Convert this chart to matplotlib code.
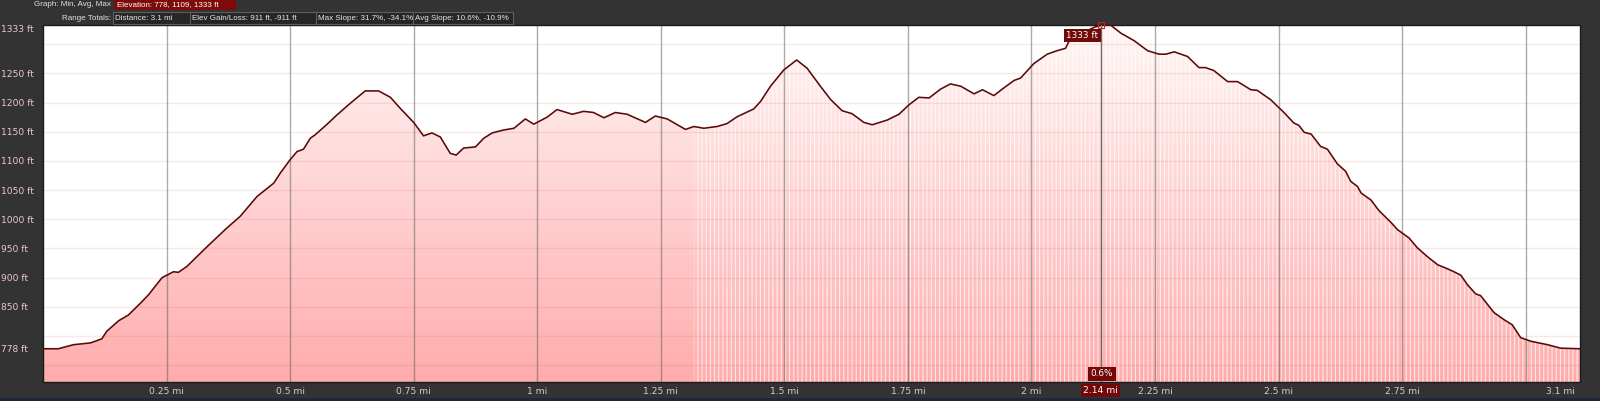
import numpy as np
import matplotlib
matplotlib.use('Agg')
import matplotlib.pyplot as plt
from matplotlib.colors import LinearSegmentedColormap
from matplotlib.patches import Rectangle

# --- data ---
distance_mi = [0.000, 0.031, 0.062, 0.096, 0.119, 0.129, 0.153, 0.173, 0.197, 0.214,
               0.241, 0.264, 0.274, 0.291, 0.332, 0.372, 0.399, 0.433, 0.467, 0.480,
               0.500, 0.514, 0.527, 0.541, 0.551, 0.575, 0.595, 0.622, 0.652, 0.679,
               0.703, 0.723, 0.750, 0.770, 0.787, 0.804, 0.824, 0.836, 0.851, 0.875,
               0.892, 0.909, 0.932, 0.953, 0.976, 0.993, 1.020, 1.040, 1.071, 1.094,
               1.114, 1.135, 1.158, 1.182, 1.219, 1.239, 1.263, 1.300, 1.317, 1.337,
               1.364, 1.384, 1.405, 1.438, 1.452, 1.472, 1.499, 1.525, 1.546, 1.573,
               1.594, 1.617, 1.637, 1.661, 1.678, 1.708, 1.732, 1.752, 1.772, 1.793,
               1.816, 1.836, 1.857, 1.884, 1.901, 1.924, 1.944, 1.965, 1.978, 2.005,
               2.032, 2.052, 2.069, 2.076, 2.110, 2.127, 2.143, 2.160, 2.181, 2.208,
               2.235, 2.258, 2.272, 2.289, 2.316, 2.339, 2.352, 2.369, 2.397, 2.417,
               2.444, 2.457, 2.484, 2.511, 2.531, 2.541, 2.552, 2.566, 2.585, 2.599,
               2.619, 2.636, 2.646, 2.660, 2.667, 2.687, 2.703, 2.727, 2.741, 2.764,
               2.781, 2.801, 2.822, 2.842, 2.855, 2.869, 2.882, 2.899, 2.909, 2.936,
               2.956, 2.973, 2.990, 3.010, 3.044, 3.071, 3.110]
elevation_ft = [778, 778, 785, 788, 795, 808, 826, 836, 856, 871,
                900, 910, 909, 919, 953, 985, 1005, 1039, 1062, 1079,
                1102, 1116, 1120, 1139, 1145, 1163, 1179, 1199, 1220, 1220,
                1209, 1190, 1166, 1143, 1148, 1141, 1113, 1110, 1122, 1124,
                1139, 1148, 1153, 1156, 1172, 1163, 1175, 1188, 1180, 1185,
                1183, 1174, 1183, 1180, 1166, 1177, 1172, 1154, 1159, 1156,
                1159, 1164, 1176, 1189, 1202, 1228, 1256, 1273, 1259, 1228,
                1205, 1186, 1181, 1166, 1162, 1170, 1180, 1196, 1209, 1208,
                1223, 1232, 1228, 1215, 1222, 1212, 1225, 1238, 1242, 1267,
                1283, 1289, 1293, 1305, 1322, 1329, 1333, 1333, 1319, 1306,
                1289, 1283, 1283, 1287, 1279, 1260, 1260, 1255, 1236, 1236,
                1222, 1221, 1205, 1183, 1165, 1161, 1149, 1146, 1125, 1120,
                1095, 1082, 1065, 1056, 1045, 1033, 1015, 995, 982, 968,
                951, 936, 922, 915, 910, 904, 888, 872, 869, 840,
                828, 819, 797, 791, 785, 779, 778]

x_grid = [0.25, 0.5, 0.75, 1.0, 1.25, 1.5, 1.75, 2.0, 2.25, 2.5, 2.75, 3.0]
x_tick_pos = [0.25, 0.5, 0.75, 1.0, 1.25, 1.5, 1.75, 2.0, 2.25, 2.5, 2.75, 3.1]
x_tick_labels = ['0.25 mi', '0.5 mi', '0.75 mi', '1 mi', '1.25 mi', '1.5 mi',
                 '1.75 mi', '2 mi', '2.25 mi', '2.5 mi', '2.75 mi', '3.1 mi']
y_grid = [750, 800, 850, 900, 950, 1000, 1050, 1100, 1150, 1200, 1250, 1300]
y_tick_pos = [778, 850, 900, 950, 1000, 1050, 1100, 1150, 1200, 1250, 1333]
y_tick_labels = ['%d ft' % v for v in y_tick_pos]

cursor_mi = 2.14
cursor_ft = 1333
cursor_slope = '0.6%'

header_graph = 'Elevation: 778, 1109, 1333 ft'
header_stats = ['Distance: 3.1 mi', 'Elev Gain/Loss: 911 ft, -911 ft',
                'Max Slope: 31.7%, -34.1%', 'Avg Slope: 10.6%, -10.9%']

# --- layout ---
W, H = 1600, 401
xmin, xmax = 0, 3.11
ymin, ymax = 721, 1333
BG = '#333333'
DARKRED = '#730808'

def fx(px):
    return px / W

def fy(py):
    return 1 - py / H

fig = plt.figure(figsize=(W / 100, H / 100), dpi=100, facecolor=BG)
ax = fig.add_axes([fx(43), fy(382), (1580 - 43) / W, (382 - 25) / H])
ax.set_facecolor('white')
ax.set_xlim(xmin, xmax)
ax.set_ylim(ymin, ymax)

d = np.array(distance_mi)
e = np.array(elevation_ft)

# gradient fill under the profile
poly = ax.fill_between(d, ymin, e, facecolor='none', edgecolor='none')
cmap = LinearSegmentedColormap.from_list('pinkfill', ['#ffacac', '#fff6f6'])
grad = np.linspace(0, 1, 256).reshape(-1, 1)
im = ax.imshow(grad, extent=[xmin, xmax, ymin, ymax], origin='lower',
               aspect='auto', cmap=cmap, zorder=1)
im.set_clip_path(poly.get_paths()[0], transform=ax.transData)

# sample stripes on the later part of the track
plt.rcParams['hatch.linewidth'] = 0.8
ax.fill_between(d, ymin, e, where=d >= 1.31, facecolor='none',
                edgecolor=(1, 1, 1, 0.7), hatch='||||', linewidth=0, zorder=1.5)

# grid (drawn by hand so lines on label positions are kept)
for gy in y_grid:
    ax.axhline(gy, color=(0.85, 0.35, 0.35, 0.14), lw=1, zorder=2.5)
for gx in x_grid:
    ax.axvline(gx, color=(0.35, 0.35, 0.35, 0.5), lw=1, zorder=2.5)

# profile line
ax.plot(d, e, color='#5a0909', lw=1.15, zorder=3)

# ticks
ax.set_xticks(x_tick_pos, x_tick_labels)
ax.set_yticks(y_tick_pos, y_tick_labels)
ax.tick_params(which='both', length=0)
ax.tick_params(axis='x', colors='#d0d0d0', labelsize=6.6, pad=3.4)
ax.tick_params(axis='y', colors='#f0c8c8', labelsize=6.6, pad=30.2)
for lab in ax.get_yticklabels():
    lab.set_horizontalalignment('left')
ax.get_yticklabels()[-1].set_verticalalignment('top')
ax.get_xticklabels()[-1].set_horizontalalignment('right')
for s in ax.spines.values():
    s.set_color('#1a1a1a')
    s.set_linewidth(1)

# cursor
ax.axvline(cursor_mi, color='#6a6a6a', lw=1, zorder=3.5)
ax.plot(cursor_mi, cursor_ft, marker='s', ms=4, mfc='none', mec='#d02020',
        mew=0.8, clip_on=False, zorder=4)
ax.annotate('%d ft' % cursor_ft, xy=(cursor_mi, ymax), xytext=(-1.5, -7.6),
            textcoords='offset points', ha='right', va='center', color='white',
            fontsize=6.4, zorder=5,
            bbox=dict(boxstyle='square,pad=0.25', fc=DARKRED, ec='none'))
ax.annotate(cursor_slope, xy=(cursor_mi, ymin), xytext=(1, 5.8),
            textcoords='offset points', ha='center', va='center', color='white',
            fontsize=6.4, zorder=5,
            bbox=dict(boxstyle='square,pad=0.3', fc=DARKRED, ec='none'))
ax.annotate('%.2f mi' % cursor_mi, xy=(cursor_mi, ymin), xytext=(0, -6.1),
            textcoords='offset points', ha='center', va='center', color='white',
            fontsize=6.6, zorder=5, annotation_clip=False,
            bbox=dict(boxstyle='square,pad=0.25', fc=DARKRED, ec='none'))

# header rows
hdr_fs = 5.8
hdr_font = ['Liberation Sans', 'DejaVu Sans']
fig.text(fx(111), fy(5), 'Graph: Min, Avg, Max', ha='right', va='center',
         color='#e2e2e2', fontsize=hdr_fs, family=hdr_font)
fig.add_artist(Rectangle((fx(114), fy(10)), fx(236) - fx(114), 10 / H,
                         transform=fig.transFigure, fc='#7e0a0a', ec='none'))
fig.text(fx(117), fy(5), header_graph, ha='left', va='center',
         color='white', fontsize=hdr_fs, family=hdr_font)

fig.text(fx(111), fy(18), 'Range Totals:', ha='right', va='center',
         color='#e2e2e2', fontsize=hdr_fs, family=hdr_font)
edges = [113, 190, 316, 413, 513]
for i, txt in enumerate(header_stats):
    fig.add_artist(Rectangle((fx(edges[i]), fy(24)), fx(edges[i + 1]) - fx(edges[i]),
                             12 / H, transform=fig.transFigure, fc='#262626',
                             ec='#5e5e5e', lw=0.8))
    fig.text(fx(edges[i] + 2), fy(18), txt, ha='left', va='center',
             color='#e8e8e8', fontsize=hdr_fs, family=hdr_font)

# dark blue strip at the very bottom
fig.add_artist(Rectangle((0, 0), 1, 3 / H, transform=fig.transFigure,
                         fc='#1d2838', ec='none'))

fig.savefig('out.png', dpi=100, facecolor=fig.get_facecolor())
